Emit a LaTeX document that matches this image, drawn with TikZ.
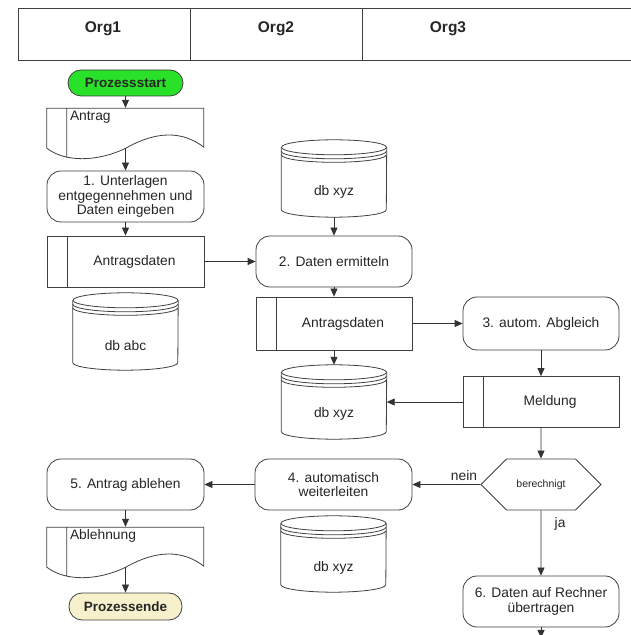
\documentclass[tikz,border=0pt]{standalone}
\usepackage{fontspec}
\setmainfont{Liberation Sans}
\usetikzlibrary{arrows.meta}
\usetikzlibrary{shapes.symbols}

\definecolor{startgreen}{RGB}{40,225,40}
\definecolor{endbeige}{RGB}{246,241,204}

\tikzset{
  outl/.style={draw=black!75, line width=0.8pt},
  conn/.style={draw=black!80, line width=0.8pt, ->},
  head/.style={font=\fontsize{15.5}{18}\selectfont\bfseries},
  term/.style={outl, rectangle, rounded corners=13pt, minimum height=26pt, font=\fontsize{13.5}{15}\selectfont\bfseries},
  proc/.style={outl, rectangle, rounded corners=14pt, minimum width=157pt, minimum height=51pt, align=center, inner sep=2pt},
  store/.style={outl, rectangle, minimum width=157pt, minimum height=51pt, execute at begin node=\hspace*{18pt},
    path picture={\draw[outl] ([xshift=20pt]path picture bounding box.north west) -- ([xshift=20pt]path picture bounding box.south west);}},
  doc/.style={rectangle, minimum width=157pt, minimum height=40pt, inner sep=0pt},
  db/.style={rectangle, minimum width=105pt, minimum height=77pt, inner sep=0pt},
  dec/.style={outl, signal, signal to=west and east, signal pointer angle=90, minimum width=120pt, minimum height=51pt, inner sep=0pt, font=\fontsize{10.5}{12}\selectfont}
}

% document outline with wavy bottom
\newcommand{\docshape}[1]{%
  \draw[outl, shift={(#1.south west)}] (0,0) .. controls (18,-14) and (50,-14) .. (79,0)
    .. controls (100,12) and (130,22) .. (157,1) -- (157,40) -- (0,40) -- cycle
    (20,40) -- (20,-8.5);}
% database cylinder
\newcommand{\dbshape}[1]{%
  \draw[outl] ([yshift=-7.5pt]#1.north) ellipse [x radius=52.5pt, y radius=7.5pt];
  \draw[outl] ([yshift=-11.5pt]#1.north west) arc [start angle=180, end angle=360, x radius=52.5pt, y radius=7.5pt];
  \draw[outl] ([yshift=-15pt]#1.north west) arc [start angle=180, end angle=360, x radius=52.5pt, y radius=7.5pt];
  \draw[outl] ([yshift=-7.5pt]#1.north west) -- ([yshift=7.5pt]#1.south west)
    arc [start angle=180, end angle=360, x radius=52.5pt, y radius=7.5pt] -- ([yshift=-7.5pt]#1.north east);}

\begin{document}
\begin{tikzpicture}[x=1pt, y=1pt, >={Triangle[length=8pt,width=7pt]},
  every node/.style={font=\fontsize{13.8}{14.8}\selectfont, text=black!85}]
	\useasboundingbox (0,0) rectangle (630,635);
	\fill[white] (0,0) rectangle (630,635);
	%Header
	\draw[outl] (18,575) rectangle (632,627);
	\draw[outl] (190,575) -- (190,627);
	\draw[outl] (362,575) -- (362,627);
	\node[head] (org1) at (103,606) {Org1};
	\node[head] (org2) at (276,606) {Org2};
	\node[head] (org3) at (448,606) {Org3};
	%Org1
	\node[term, fill=startgreen, minimum width=115pt] (start) at (125.5,552) {Prozessstart};
	\node[doc, label={[anchor=north west, xshift=20pt, inner sep=3pt]north west:Antrag}] (antrag) at (125.5,507) {};
	\docshape{antrag}
	\node[proc] (s1) at (125.5,438.5) {1. Unterlagen\\entgegennehmen und\\Daten eingeben};
	\node[store] (ad1) at (125.5,373.5) {Antragsdaten};
	\node[db, label={[yshift=-14pt]center:db abc}] (dbabc) at (125.5,303.5) {};
	\dbshape{dbabc}
	%Org2
	\node[db, label={[yshift=-13pt]center:db xyz}] (dbx1) at (334,456.5) {};
	\dbshape{dbx1}
	\node[proc, minimum width=156pt] (s2) at (334,373.5) {2. Daten ermitteln};
	\node[store, minimum width=156pt, minimum height=53pt] (ad2) at (334,311.5) {Antragsdaten};
	\node[db, minimum height=74pt, label={[yshift=-12pt]center:db xyz}] (dbx2) at (334,233) {};
	\dbshape{dbx2}
	%Org3
	\node[proc, minimum width=156pt, minimum height=53pt] (s3) at (541,311.5) {3. autom. Abgleich};
	\node[store, minimum width=156pt] (meld) at (541,233) {Meldung};
	\node[dec] (dec) at (541,150.5) {berechnigt};
	\node[proc, minimum width=156pt] (s6) at (541,33.5) {6. Daten auf Rechner\\übertragen};
	\coordinate (out) at (541,-3);
	%Back to Org2 and Org1
	\node[proc] (s4) at (333.5,150.5) {4. automatisch\\weiterleiten};
	\node[db, minimum height=76pt, label={[yshift=-14pt]center:db xyz}] (dbx3) at (333.5,81) {};
	\dbshape{dbx3}
	\node[proc] (s5) at (125.5,150.5) {5. Antrag ablehen};
	\node[doc, label={[anchor=north west, xshift=20pt, inner sep=3pt]north west:Ablehnung}] (abl) at (125.5,88) {};
	\docshape{abl}
	\node[term, fill=endbeige, minimum width=113pt, minimum height=27pt] (end) at (125.5,28.5) {Prozessende};
	%Flow
	\draw[conn] (start) -- (antrag);
	\draw[conn] (antrag) -- (s1);
	\draw[conn] (s1) -- (ad1);
	\draw[conn] (ad1) -- (s2);
	\draw[conn] (dbx1) -- (s2);
	\draw[conn] (s2) -- (ad2);
	\draw[conn] (ad2) -- (s3);
	\draw[conn] (ad2) -- (dbx2);
	\draw[conn] (s3) -- (meld);
	\draw[conn] (meld) -- (dbx2);
	\draw[conn] (meld) -- (dec);
	\draw[conn] (dec) -- node[pos=0, anchor=south east, inner sep=3pt] {nein} (s4);
	\draw[conn] (dec) -- node[pos=0, anchor=north west, xshift=10pt, yshift=-3pt] {ja} (s6);
	\draw[conn] (s4) -- (s5);
	\draw[conn] (s5) -- (abl);
	\draw[conn] (abl) -- (end);
	\draw[conn] (s6) -- (out);
\end{tikzpicture}
\end{document}
